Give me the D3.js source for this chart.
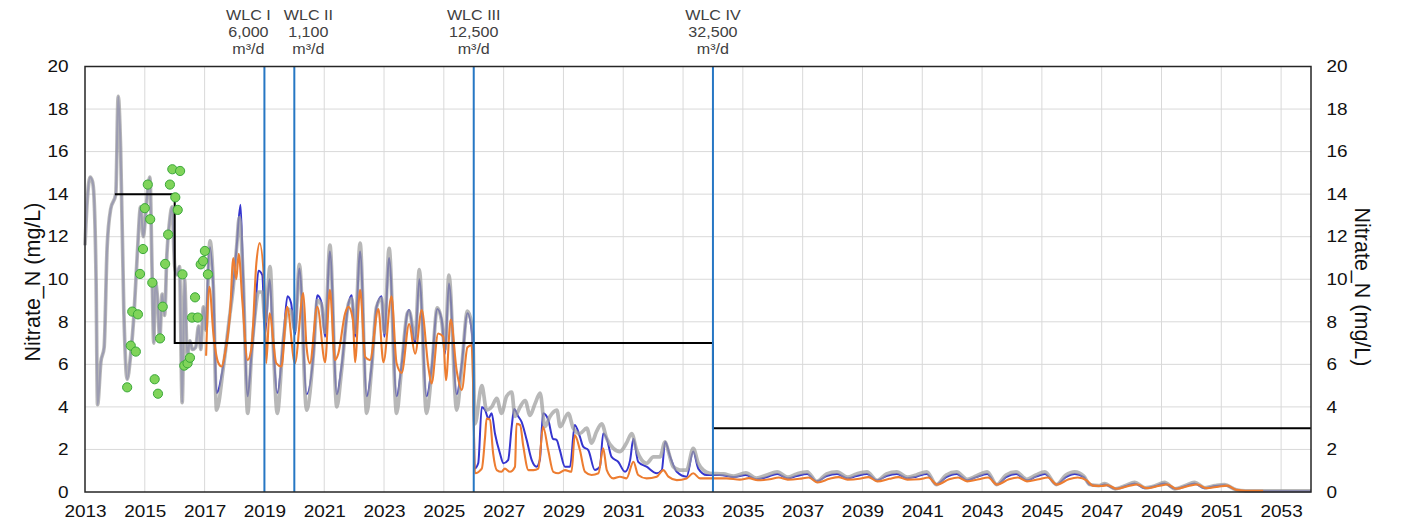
<!DOCTYPE html>
<html>
<head>
<meta charset="utf-8">
<script src="https://cdn.jsdelivr.net/npm/d3@7"></script>
<style>
  body { margin: 0; background: #fff; }
  svg { display: block; font-family: "Liberation Sans", Arial, sans-serif; }
</style>
</head>
<body>
<svg id="chart" width="1404" height="531"></svg>
<script>
// ---------------- data ----------------
const xTicks = [2013,2015,2017,2019,2021,2023,2025,2027,2029,2031,2033,2035,2037,2039,2041,2043,2045,2047,2049,2051,2053];
const yTicks = [0,2,4,6,8,10,12,14,16,18,20];

const eventYears = [2019, 2020, 2026, 2034];
const eventNames = ["WLC I", "WLC II", "WLC III", "WLC IV"];
const eventRates = ["6,000", "1,100", "12,500", "32,500"];

// regulatory limit step line [year, mg/L]
const limitPts = [[2014.0,14],[2016.0,14],[2016.0,7],[2034.0,7],[2034.0,3],[2054.0,3]];

// observed values (green dots) [year, mg/L]
const observedPts = [
  [2014.41,4.92],[2014.53,6.88],[2014.70,6.6],[2014.58,8.48],[2014.77,8.35],[2014.84,10.25],
  [2014.94,11.42],[2015.00,13.34],[2015.10,14.45],[2015.18,12.82],[2015.25,9.84],[2015.33,5.3],
  [2015.44,4.62],[2015.51,7.22],[2015.60,8.71],[2015.68,10.72],[2015.78,12.1],[2015.84,14.45],
  [2015.92,15.17],[2016.18,15.09],[2016.02,13.85],[2016.10,13.26],[2016.26,10.23],[2016.32,5.94],
  [2016.43,6.05],[2016.51,6.31],[2016.58,8.2],[2016.68,9.15],[2016.77,8.2],[2016.87,10.7],
  [2016.95,10.86],[2017.01,11.33],[2017.11,10.23]
];

// grey series [year, mg/L]
const greyPts = [
  [2013.00,11.6],[2013.08,13.8],[2013.17,14.8],[2013.25,14.6],[2013.30,13.9],[2013.37,10.0],[2013.42,4.1],
  [2013.53,6.1],[2013.64,6.8],[2013.74,11.5],[2013.86,13.3],[2014.03,14.0],[2014.11,18.6],[2014.19,16.2],
  [2014.30,8.4],[2014.41,5.3],[2014.53,6.5],[2014.64,8.4],[2014.75,11.2],[2014.86,13.4],[2014.95,12.0],
  [2015.03,13.1],[2015.10,14.2],[2015.17,14.8],[2015.24,10.6],[2015.30,7.0],[2015.35,9.9],[2015.42,9.2],
  [2015.50,7.2],[2015.58,9.3],[2015.66,8.3],[2015.74,11.2],[2015.82,12.6],[2015.91,13.4],[2016.00,10.6],
  [2016.08,10.2],[2016.16,10.6],[2016.25,4.2],[2016.33,10.0],[2016.42,6.4],[2016.51,7.1],[2016.59,6.7],
  [2016.70,6.8],[2016.80,7.8],[2016.87,6.7],[2016.96,8.7],[2017.04,7.6],
  [2017.18,11.8],[2017.29,9.7],[2017.40,3.85],[2017.63,5.9],[2017.85,8.4],[2017.96,9.65],[2018.07,11.5],
  [2018.16,12.9],[2018.29,10.0],[2018.44,3.7],[2018.57,6.5],[2018.69,8.4],[2018.80,9.4],[2018.93,9.4],
  [2019.02,8.0],[2019.19,10.6],[2019.30,6.8],[2019.43,3.7],[2019.63,7.1],[2019.79,8.6],[2019.89,8.5],
  [2020.02,7.6],[2020.17,10.7],[2020.41,3.85],[2020.64,6.5],[2020.77,9.0],[2020.91,8.8],[2021.03,7.5],
  [2021.19,11.6],[2021.42,4.0],[2021.58,5.7],[2021.81,8.85],[2021.92,9.1],[2022.03,7.5],[2022.20,11.7],
  [2022.42,3.7],[2022.59,5.9],[2022.75,8.7],[2022.92,9.1],[2023.01,7.5],[2023.17,11.45],[2023.42,3.7],
  [2023.59,5.9],[2023.78,8.4],[2023.84,8.5],[2024.04,7.2],[2024.18,10.45],[2024.42,3.7],[2024.59,5.6],
  [2024.78,8.65],[2024.93,8.0],[2025.04,6.7],[2025.17,10.2],[2025.43,3.85],[2025.60,5.9],[2025.79,8.5],
  [2025.93,7.9],[2025.98,7.0],[2026.04,3.2],[2026.27,5.0],[2026.43,3.85],[2026.60,4.0],[2026.77,4.4],
  [2026.93,3.7],[2027.10,4.5],[2027.27,4.7],[2027.38,3.55],[2027.55,4.0],[2027.72,4.3],[2027.88,3.6],
  [2028.05,4.15],[2028.22,4.65],[2028.38,3.07],[2028.55,3.55],[2028.78,3.85],[2028.89,3.07],[2029.16,3.7],
  [2029.33,3.0],[2029.55,2.75],[2029.78,3.0],[2029.94,2.3],[2030.11,2.85],[2030.28,3.2],[2030.45,2.5],
  [2030.67,2.05],[2030.89,1.9],[2031.11,2.3],[2031.28,2.75],[2031.45,1.97],[2031.62,1.5],[2031.78,1.35],
  [2032.01,1.65],[2032.23,1.65],[2032.40,2.36],[2032.51,1.9],[2032.67,1.19],[2032.90,1.03],[2033.12,1.03],
  [2033.34,2.05],[2033.51,1.35],[2033.68,1.03],[2033.90,0.88],[2034.35,0.85],[2034.70,0.75],[2035.10,0.9],
  [2035.45,0.65],[2035.80,0.8],[2036.15,0.95],[2036.50,0.7],[2036.80,0.85],[2037.15,0.95],[2037.47,0.5],
  [2037.80,0.85],[2038.15,0.95],[2038.50,0.7],[2038.80,0.85],[2039.15,0.95],[2039.49,0.55],[2039.80,0.85],
  [2040.15,0.95],[2040.50,0.7],[2040.80,0.8],[2041.15,0.95],[2041.47,0.35],[2041.80,0.8],[2042.15,0.95],
  [2042.50,0.6],[2042.80,0.75],[2043.17,0.95],[2043.49,0.35],[2043.80,0.8],[2044.14,0.95],[2044.50,0.6],
  [2044.80,0.8],[2045.10,0.95],[2045.48,0.35],[2045.80,0.8],[2046.10,0.95],[2046.40,0.75],[2046.60,0.35],
  [2046.90,0.3],[2047.10,0.4],[2047.45,0.15],[2047.80,0.3],[2048.10,0.45],[2048.45,0.2],[2048.80,0.3],
  [2049.10,0.45],[2049.45,0.15],[2049.80,0.3],[2050.10,0.45],[2050.45,0.2],[2050.80,0.3],[2051.10,0.35],
  [2051.50,0.1],[2051.80,0.05],[2054.00,0.05]
];

// blue series [year, mg/L]
const bluePts = [
  [2013.00,11.6],[2013.08,13.8],[2013.17,14.8],[2013.25,14.6],[2013.30,13.9],[2013.37,10.0],[2013.42,4.1],
  [2013.53,6.1],[2013.64,6.8],[2013.74,11.5],[2013.86,13.3],[2014.03,14.0],[2014.11,18.6],[2014.19,16.2],
  [2014.30,8.4],[2014.41,5.3],[2014.53,6.5],[2014.64,8.4],[2014.75,11.2],[2014.86,13.4],[2014.95,12.0],
  [2015.03,13.1],[2015.10,14.2],[2015.17,14.8],[2015.24,10.6],[2015.30,7.0],[2015.35,9.9],[2015.42,9.2],
  [2015.50,7.2],[2015.58,9.3],[2015.66,8.3],[2015.74,11.2],[2015.82,12.6],[2015.91,13.4],[2016.00,10.6],
  [2016.08,10.2],[2016.16,10.6],[2016.25,4.2],[2016.33,10.0],[2016.42,6.4],[2016.51,7.1],[2016.59,6.7],
  [2016.70,6.8],[2016.80,7.8],[2016.87,6.7],[2016.96,8.7],[2017.05,7.6],
  [2017.18,11.5],[2017.29,9.6],[2017.40,4.65],[2017.63,6.0],[2017.85,8.4],[2017.96,9.8],[2018.07,11.5],
  [2018.20,13.5],[2018.29,10.0],[2018.44,4.5],[2018.57,6.5],[2018.69,8.4],[2018.80,10.4],[2018.93,10.2],
  [2019.02,7.4],[2019.17,10.0],[2019.30,6.8],[2019.43,4.65],[2019.63,7.1],[2019.77,9.2],[2019.89,8.9],
  [2020.02,7.4],[2020.17,10.5],[2020.41,4.6],[2020.64,6.5],[2020.77,9.25],[2020.91,8.9],[2021.03,7.3],
  [2021.19,11.3],[2021.42,4.6],[2021.58,5.9],[2021.81,8.85],[2021.92,9.25],[2022.03,7.3],[2022.20,11.3],
  [2022.42,4.5],[2022.59,6.0],[2022.75,8.7],[2022.92,9.2],[2023.01,7.3],[2023.17,11.0],[2023.42,4.5],
  [2023.59,6.0],[2023.78,8.4],[2023.84,8.55],[2024.04,7.0],[2024.18,10.0],[2024.42,4.5],[2024.59,5.8],
  [2024.78,8.6],[2024.93,8.1],[2025.04,6.5],[2025.17,9.8],[2025.43,4.6],[2025.60,6.0],[2025.79,8.4],
  [2025.93,7.6],[2025.98,6.0],[2026.03,1.1],[2026.15,1.35],[2026.27,4.0],[2026.38,3.85],[2026.49,3.45],
  [2026.60,3.7],[2026.71,2.75],[2026.88,1.8],[2026.99,1.35],[2027.15,1.5],[2027.27,3.07],[2027.35,3.9],
  [2027.49,3.55],[2027.60,3.3],[2027.77,2.45],[2027.94,1.5],[2028.10,1.19],[2028.21,1.5],[2028.32,3.7],
  [2028.49,3.4],[2028.65,2.5],[2028.77,2.45],[2028.88,1.97],[2029.05,1.19],[2029.22,1.19],[2029.38,3.15],
  [2029.55,2.6],[2029.66,2.13],[2029.83,1.97],[2030.05,1.03],[2030.22,1.19],[2030.33,2.75],[2030.45,2.5],
  [2030.61,1.65],[2030.83,1.42],[2031.06,0.95],[2031.23,1.5],[2031.34,2.5],[2031.50,1.42],[2031.78,1.19],
  [2032.12,0.88],[2032.29,1.03],[2032.40,2.36],[2032.57,1.65],[2032.79,0.95],[2033.12,0.72],[2033.34,1.9],
  [2033.51,1.1],[2033.79,0.8],[2034.23,0.8],[2034.70,0.7],[2035.10,0.8],[2035.45,0.6],[2035.80,0.7],
  [2036.15,0.85],[2036.50,0.65],[2036.80,0.75],[2037.15,0.85],[2037.47,0.5],[2037.80,0.75],[2038.15,0.85],
  [2038.50,0.65],[2038.80,0.75],[2039.15,0.85],[2039.49,0.55],[2039.80,0.75],[2040.15,0.85],[2040.50,0.65],
  [2040.80,0.72],[2041.15,0.85],[2041.47,0.35],[2041.80,0.7],[2042.15,0.85],[2042.50,0.55],[2042.80,0.7],
  [2043.17,0.85],[2043.49,0.35],[2043.80,0.7],[2044.14,0.85],[2044.50,0.55],[2044.80,0.72],[2045.10,0.85],
  [2045.48,0.35],[2045.80,0.7],[2046.10,0.85],[2046.40,0.7],[2046.60,0.35],[2046.90,0.28],[2047.10,0.35],
  [2047.45,0.15],[2047.80,0.28],[2048.10,0.4],[2048.45,0.18],[2048.80,0.28],[2049.10,0.4],[2049.45,0.15],
  [2049.80,0.28],[2050.10,0.4],[2050.45,0.18],[2050.80,0.28],[2051.10,0.32],[2051.50,0.1],[2051.80,0.04],
  [2054.00,0.04]
];

// orange series [year, mg/L]
const orangePts = [
  [2017.05,6.4],[2017.16,9.65],[2017.29,7.5],[2017.45,6.1],[2017.57,5.9],[2017.68,6.5],[2017.85,8.4],
  [2017.96,11.0],[2018.06,10.0],[2018.14,11.2],[2018.26,9.0],[2018.44,6.2],[2018.57,6.8],[2018.73,10.75],
  [2018.84,11.7],[2019.00,9.65],[2019.06,6.05],[2019.17,8.4],[2019.40,6.05],[2019.57,5.9],[2019.76,8.7],
  [2020.02,6.05],[2020.30,9.35],[2020.41,6.8],[2020.52,6.05],[2020.77,8.7],[2021.03,6.1],[2021.19,9.5],
  [2021.36,6.2],[2021.47,6.5],[2021.70,8.4],[2021.81,8.7],[2021.96,8.1],[2022.03,6.1],[2022.20,9.5],
  [2022.37,6.35],[2022.53,6.2],[2022.81,8.6],[2022.98,6.1],[2023.25,9.2],[2023.42,6.05],[2023.59,5.6],
  [2023.84,7.9],[2024.04,6.5],[2024.26,8.55],[2024.48,5.9],[2024.59,5.1],[2024.81,7.45],[2024.98,7.3],
  [2025.07,5.25],[2025.23,8.1],[2025.43,5.7],[2025.60,4.8],[2025.79,6.8],[2025.93,6.9],[2025.98,5.0],
  [2026.04,0.88],[2026.27,1.1],[2026.38,2.6],[2026.43,3.45],[2026.54,3.4],[2026.65,1.8],[2026.77,1.03],
  [2026.93,0.95],[2027.04,1.1],[2027.21,0.95],[2027.38,1.19],[2027.43,3.2],[2027.55,3.15],[2027.66,2.13],
  [2027.83,1.03],[2028.00,1.03],[2028.16,1.1],[2028.32,3.07],[2028.49,1.97],[2028.66,0.95],[2028.83,0.88],
  [2029.05,1.03],[2029.27,0.95],[2029.38,2.68],[2029.55,1.97],[2029.72,0.95],[2029.94,0.8],[2030.17,0.88],
  [2030.33,2.05],[2030.45,1.03],[2030.67,0.64],[2030.89,0.72],[2031.11,0.64],[2031.34,1.42],[2031.50,0.8],
  [2031.78,0.64],[2032.12,0.72],[2032.34,1.03],[2032.51,0.72],[2032.79,0.56],[2033.12,0.64],[2033.34,0.88],
  [2033.57,0.64],[2034.01,0.64],[2034.46,0.64],[2034.90,0.58],[2035.20,0.65],[2035.50,0.55],[2035.90,0.6],
  [2036.20,0.68],[2036.50,0.58],[2036.90,0.62],[2037.20,0.68],[2037.50,0.45],[2037.90,0.62],[2038.20,0.7],
  [2038.50,0.58],[2038.90,0.62],[2039.20,0.7],[2039.50,0.5],[2039.90,0.62],[2040.20,0.7],[2040.50,0.58],
  [2040.90,0.6],[2041.20,0.68],[2041.50,0.35],[2041.90,0.6],[2042.20,0.68],[2042.50,0.5],[2042.90,0.6],
  [2043.20,0.68],[2043.50,0.35],[2043.90,0.6],[2044.20,0.68],[2044.50,0.5],[2044.90,0.6],[2045.20,0.68],
  [2045.50,0.35],[2045.90,0.6],[2046.20,0.68],[2046.50,0.55],[2046.70,0.3],[2047.00,0.28],[2047.20,0.32],
  [2047.50,0.15],[2047.90,0.28],[2048.20,0.35],[2048.50,0.18],[2048.90,0.28],[2049.20,0.35],[2049.50,0.15],
  [2049.90,0.28],[2050.20,0.35],[2050.50,0.18],[2050.90,0.25],[2051.20,0.3],[2051.50,0.1],[2051.80,0.06],
  [2052.40,0.06]
];

// ---------------- drawing ----------------
const svg = d3.select("#chart");
const L = 85, R = 1311, T = 66.5, B = 492;
const x = d3.scaleLinear().domain([2013, 2054]).range([L, R]);
const y = d3.scaleLinear().domain([0, 20]).range([B, T]);
const SX = 1.15; // horizontal stretch of the original text rendering

// grid
const grid = svg.append("g");
grid.selectAll("line.v").data(xTicks.filter(d => d > 2013)).enter().append("line")
  .attr("x1", d => x(d)).attr("x2", d => x(d)).attr("y1", T).attr("y2", B)
  .attr("stroke", "#d9d9d9").attr("stroke-width", 1);
grid.selectAll("line.h").data(yTicks.filter(d => d > 0 && d < 20)).enter().append("line")
  .attr("x1", L).attr("x2", R).attr("y1", d => y(d)).attr("y2", d => y(d))
  .attr("stroke", "#d9d9d9").attr("stroke-width", 1);

const line = d3.line().x(d => x(d[0])).y(d => y(d[1]));
const smooth = d3.line().curve(d3.curveMonotoneX).x(d => x(d[0])).y(d => y(d[1]));

// blue: lighter where it coincides with grey (history), solid afterwards
const blueHist = bluePts.filter(d => d[0] <= 2017.05);
const blueProj = bluePts.filter(d => d[0] >= 2017.05);
svg.append("path").datum(blueHist).attr("d", smooth)
  .attr("fill", "none").attr("stroke", "#3535cf").attr("stroke-opacity", 0.5)
  .attr("stroke-width", 2).attr("stroke-linejoin", "round");
svg.append("path").datum(blueProj).attr("d", smooth)
  .attr("fill", "none").attr("stroke", "#3535cf").attr("stroke-width", 2).attr("stroke-linejoin", "round");
// grey (wide, semi-transparent, over blue)
svg.append("path").datum(greyPts).attr("d", smooth)
  .attr("fill", "none").attr("stroke", "#9c9c9c").attr("stroke-opacity", 0.72)
  .attr("stroke-width", 3.7).attr("stroke-linejoin", "round");
svg.append("path").datum(orangePts).attr("d", smooth)
  .attr("fill", "none").attr("stroke", "#ed7d31").attr("stroke-width", 2.1).attr("stroke-linejoin", "round");

// limit step line
svg.append("path").datum(limitPts).attr("d", line)
  .attr("fill", "none").attr("stroke", "#000").attr("stroke-width", 2);

// event lines
svg.selectAll("line.ev").data(eventYears).enter().append("line")
  .attr("x1", d => x(d)).attr("x2", d => x(d)).attr("y1", T).attr("y2", B)
  .attr("stroke", "#2677c4").attr("stroke-width", 2);

// observed dots
svg.selectAll("circle.obs").data(observedPts).enter().append("circle")
  .attr("cx", d => x(d[0])).attr("cy", d => y(d[1])).attr("r", 4.6)
  .attr("fill", "#80d45a").attr("stroke", "#3aa83a").attr("stroke-width", 1);

// frame
svg.append("rect").attr("x", L).attr("y", T).attr("width", R - L).attr("height", B - T)
  .attr("fill", "none").attr("stroke", "#262626").attr("stroke-width", 1.5);

// axes
const fs = "16.5px";
const xAxis = svg.append("g").attr("transform", `translate(0,${B})`)
  .call(d3.axisBottom(x).tickValues(xTicks).tickFormat(d3.format("d")).tickSize(0).tickPadding(13));
const yAxisL = svg.append("g").attr("transform", `translate(${L},0)`)
  .call(d3.axisLeft(y).tickValues(yTicks).tickSize(0));
const yAxisR = svg.append("g").attr("transform", `translate(${R},0)`)
  .call(d3.axisRight(y).tickValues(yTicks).tickSize(0));
[xAxis, yAxisL, yAxisR].forEach(g => {
  g.select(".domain").remove();
  g.selectAll("text").attr("font-size", fs).attr("fill", "#111")
    .attr("font-family", "'Liberation Sans', Arial, sans-serif")
    .attr("transform", `scale(${SX},1)`);
});
yAxisL.selectAll("text").attr("x", -16.5 / SX);
yAxisR.selectAll("text").attr("x", 15.5 / SX);

// axis titles
svg.append("text").attr("transform", "translate(40,282) rotate(-90)")
  .attr("text-anchor", "middle").attr("font-size", "21.5px").attr("fill", "#111")
  .text("Nitrate_N (mg/L)");
svg.append("text").attr("transform", "translate(1355,287) rotate(90)")
  .attr("text-anchor", "middle").attr("font-size", "21.5px").attr("fill", "#111")
  .text("Nitrate_N (mg/L)");

// event annotations (first two labels are nudged apart as in the original)
const labelShift = [-16, 14, 0, 0];
const ann = svg.selectAll("g.ann").data(eventYears).enter().append("g")
  .attr("transform", (d, i) => `translate(${x(d) + labelShift[i]},0) scale(${SX},1)`);
ann.append("text").attr("y", 20).attr("text-anchor", "middle").attr("font-size", "14px")
  .attr("fill", "#404040").text((d, i) => eventNames[i]);
ann.append("text").attr("y", 37).attr("text-anchor", "middle").attr("font-size", "14px")
  .attr("fill", "#404040").text((d, i) => eventRates[i]);
ann.append("text").attr("y", 54).attr("text-anchor", "middle").attr("font-size", "14px")
  .attr("fill", "#404040").text("m³/d");
</script>
</body>
</html>
